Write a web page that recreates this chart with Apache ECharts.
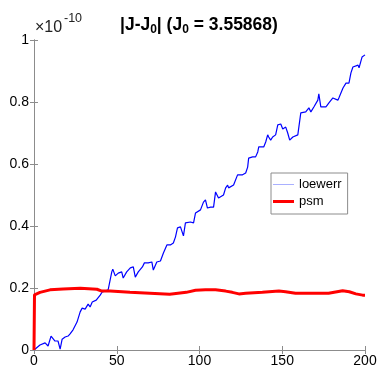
<!DOCTYPE html>
<html>
<head>
<meta charset="utf-8">
<script src="https://cdn.jsdelivr.net/npm/echarts@6/dist/echarts.min.js"></script>
<style>
html,body{margin:0;padding:0;background:#fff;}
#c{width:380px;height:376px;}
</style>
</head>
<body>
<div id="c"></div>
<script>
// Data (values in units of 1e-10)
var loewerrX = [0,1.2,3.6,6.7,8.5,10.3,11.5,12.7,14.5,15.8,17,18.8,20.6,21.8,23.6,26,27.9,29.1,30.9,32.7,33.9,35.2,37.6,40,41.2,43,44.8,46,47,47.6,49.1,50.9,53,53.9,56,58.2,60,61.2,63,65.5,66.7,69,71.2,72.1,74.2,76.4,78.2,80.3,82.4,84.2,85.5,86.7,88.5,90.3,91.5,94.5,96.4,97.6,98.8,100.6,102.4,103.6,104.8,106.7,108.5,109.7,110.9,111.5,114.5,115.8,117,117.6,120.6,123,123.6,126,127.9,129.1,129.7,132.1,133.9,135.2,135.8,137,138.8,140,141.2,141.8,143,144.2,146,147.3,149.1,150.3,152.1,153.3,154.5,156.4,159.4,161.2,164.2,166.1,167.3,169.1,171.5,172.1,173.3,176.4,178.2,180.6,183.6,184.2,186.7,188.5,190.3,191.5,192.7,195.8,196.4,198.2,199.4,200];
var loewerrY = [0,0.003,0.016,0.023,0.013,0.045,0.042,0.029,0.029,0.003,0.035,0.042,0.045,0.052,0.065,0.09,0.123,0.135,0.132,0.148,0.139,0.155,0.161,0.177,0.187,0.19,0.194,0.2,0.252,0.261,0.239,0.248,0.252,0.232,0.252,0.265,0.268,0.235,0.252,0.268,0.281,0.281,0.284,0.258,0.284,0.287,0.313,0.339,0.339,0.345,0.365,0.394,0.397,0.368,0.41,0.413,0.41,0.442,0.445,0.452,0.477,0.484,0.458,0.461,0.461,0.51,0.516,0.49,0.5,0.523,0.532,0.523,0.532,0.565,0.571,0.565,0.571,0.59,0.619,0.623,0.623,0.639,0.655,0.658,0.655,0.671,0.694,0.687,0.677,0.687,0.694,0.726,0.729,0.713,0.719,0.7,0.677,0.687,0.694,0.765,0.768,0.781,0.768,0.784,0.806,0.826,0.784,0.784,0.797,0.813,0.806,0.813,0.845,0.861,0.861,0.894,0.913,0.919,0.91,0.945,0.942,0.952];
var psmX = [0,0.3,3.6,9.7,17.6,28,38,41,46,58,70,82,92,97.6,103.6,109.7,115.8,119.8,123.8,127.9,138,148,152,158,168,178,186.5,190.5,194.5,198.6,200];
var psmY = [0,0.178,0.186,0.194,0.197,0.199,0.196,0.19,0.19,0.186,0.183,0.18,0.186,0.193,0.194,0.194,0.19,0.186,0.181,0.183,0.186,0.19,0.188,0.183,0.183,0.183,0.191,0.188,0.181,0.177,0.177];
var xTicks = [0,50,100,150,200];
var yTicks = [0,0.2,0.4,0.6,0.8,1];
var seriesNames = ['loewerr','psm'];

function zip(a,b){var r=[];for(var i=0;i<a.length;i++){r.push([a[i],b[i]]);}return r;}

var axisColor = '#8c8c8c';
var font = 'Liberation Sans, Arial, Helvetica, sans-serif';
var chart = echarts.init(document.getElementById('c'), null, {renderer:'canvas'});
chart.setOption({
  animation:false,
  backgroundColor:'#fff',
  textStyle:{fontFamily:font},
  title:{
    text:'{b||J-J}{s|0}{b|| (J}{s|0}{b| = 3.55868)}',
    left:115, top:9,
    textStyle:{
      rich:{
        b:{fontSize:17.5,fontWeight:'bold',color:'#000',fontFamily:font},
        s:{fontSize:12,fontWeight:'bold',color:'#000',fontFamily:font,padding:[10,0,0,0]}
      }
    }
  },
  graphic:[{
    type:'text', left:35, top:20,
    style:{text:'\u00d710', fontSize:16, fill:'#222', fontFamily:font}
  },{
    type:'text', left:64, top:12,
    style:{text:'-10', fontSize:12.5, fill:'#222', fontFamily:font}
  }],
  legend:{
    orient:'vertical',
    left:271, top:173,
    padding:[5,6,6,2],
    itemWidth:21, itemHeight:14, itemGap:4,
    symbolKeepAspect:true,
    backgroundColor:'#fff',
    borderColor:axisColor, borderWidth:1, borderRadius:0,
    textStyle:{fontSize:13,color:'#000',fontFamily:font},
    data:[
      {name:seriesNames[0], icon:'path://M0,0H21V1H0Z', itemStyle:{color:'#a9b0ff'}},
      {name:seriesNames[1], icon:'path://M0,0H21V3H0Z', itemStyle:{color:'#ff0000'}}
    ]
  },
  grid:{left:34,right:15,top:40,bottom:26,containLabel:false},
  xAxis:[{
    type:'value',min:xTicks[0],max:xTicks[xTicks.length-1],interval:50,
    axisLine:{lineStyle:{color:axisColor}},
    axisTick:{inside:true,length:4,lineStyle:{color:axisColor}},
    axisLabel:{color:'#000',fontSize:14,margin:4,fontFamily:font},
    splitLine:{show:false}
  },{
    type:'value',position:'top',min:xTicks[0],max:xTicks[xTicks.length-1],interval:50,
    axisLine:{show:true,lineStyle:{color:axisColor}},
    axisTick:{inside:true,length:4,lineStyle:{color:axisColor}},
    axisLabel:{show:false},splitLine:{show:false}
  }],
  yAxis:[{
    type:'value',min:yTicks[0],max:yTicks[yTicks.length-1],interval:0.2,
    axisLine:{show:true,lineStyle:{color:axisColor}},
    axisTick:{show:true,inside:true,length:4,lineStyle:{color:axisColor}},
    axisLabel:{color:'#000',fontSize:14,margin:5,fontFamily:font},
    splitLine:{show:false}
  },{
    type:'value',position:'right',min:yTicks[0],max:yTicks[yTicks.length-1],interval:0.2,
    axisLine:{show:true,lineStyle:{color:axisColor}},
    axisTick:{show:true,inside:true,length:4,lineStyle:{color:axisColor}},
    axisLabel:{show:false},splitLine:{show:false}
  }],
  series:[{
    name:seriesNames[0],type:'line',showSymbol:false,symbol:'none',
    data:zip(loewerrX,loewerrY),
    lineStyle:{color:'#0000ff',width:1.2},itemStyle:{color:'#0000ff'}
  },{
    name:seriesNames[1],type:'line',showSymbol:false,symbol:'none',
    data:zip(psmX,psmY),
    lineStyle:{color:'#ff0000',width:3},itemStyle:{color:'#ff0000'}
  }]
});
</script>
</body>
</html>
